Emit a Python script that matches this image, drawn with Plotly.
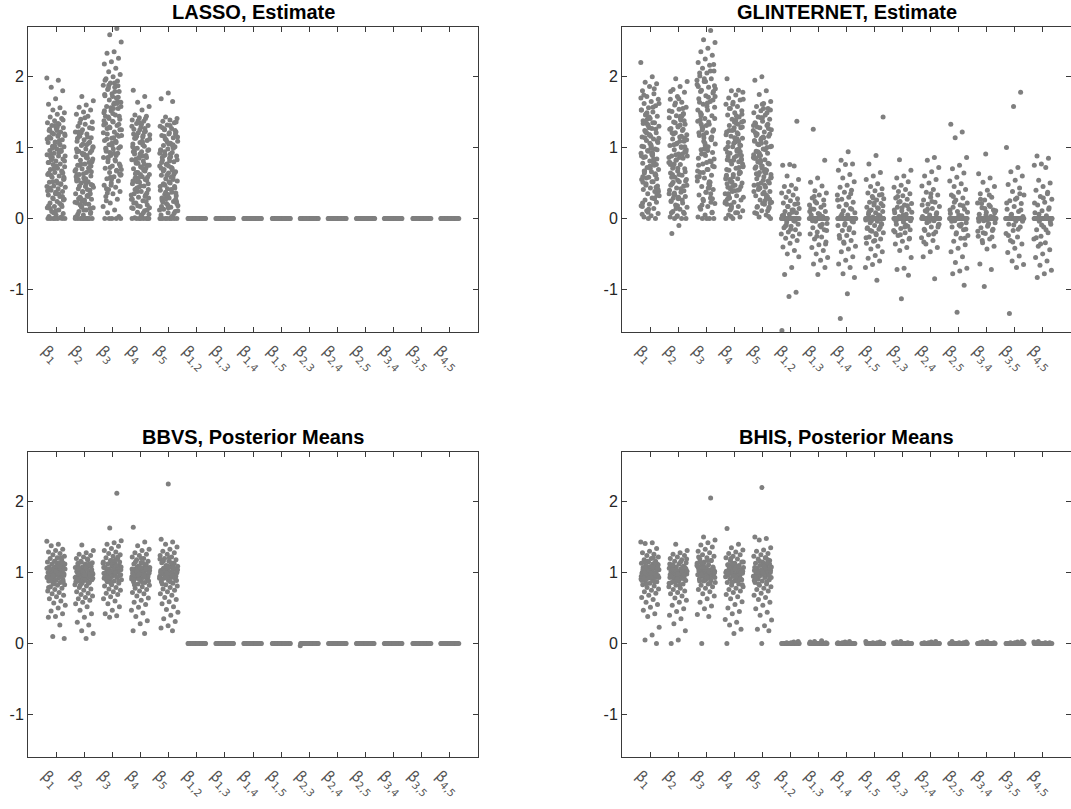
import plotly.graph_objects as go

# ---------------- data ----------------
labels = ["1", "2", "3", "4", "5", "1,2", "1,3", "1,4", "1,5", "2,3", "2,4", "2,5", "3,4", "3,5", "4,5"]
titles = ["LASSO, Estimate", "GLINTERNET, Estimate", "BBVS, Posterior Means", "BHIS, Posterior Means"]

# LASSO estimates (main effects), interactions are all zero
lasso_b1 = [1.98, 1.95, 1.85, 1.80, 1.69, 1.61, 1.56, 1.53, 1.49, 1.47, 1.43, 1.41, 1.38, 1.35, 1.33, 1.31, 1.28, 1.27,
            1.24, 1.22, 1.19, 1.17, 1.16, 1.13, 1.11, 1.08, 1.07, 1.05, 1.02, 1.01, 0.98, 0.96, 0.95, 0.92, 0.90, 0.88,
            0.85, 0.84, 0.81, 0.79, 0.77, 0.76, 0.73, 0.71, 0.69, 0.66, 0.65, 0.62, 0.60, 0.58, 0.55, 0.53, 0.51, 0.49,
            0.46, 0.44, 0.42, 0.40, 0.38, 0.35, 0.33, 0.31, 0.29, 0.27, 0.24, 0.22, 0.19, 0.17, 0.15, 0.12, 0.10, 0.07,
            0.05, 0.03, 0.01, 0.0, 0.0, 0.0, 0.0, 0.0, 0.0, 0.0, 1.10, 0.86, 0.58, 0.35, 1.26, 0.97, 0.70, 0.45, 1.18,
            0.91, 0.64, 0.37, 0.18, 1.04, 0.52, 0.81, 1.29, 0.14, 0.67, 1.02, 0.39, 0.93, 1.21, 0.26, 0.74, 1.15, 0.48,
            0.08, 0.88, 1.34, 0.61, 0.31, 1.07, 0.79, 0.21, 0.99, 0.56, 1.24, 0.43, 0.02, 0.71, 1.12, 0.35, 0.83, 1.39,
            0.11, 0.64, 0.95, 0.28, 1.19, 0.50, 0.87, 0.17, 1.31]
lasso_b2 = [1.72, 1.66, 1.60, 1.57, 1.53, 1.50, 1.47, 1.44, 1.40, 1.36, 1.33, 1.30, 1.28, 1.25, 1.22, 1.19, 1.16, 1.14,
            1.11, 1.09, 1.06, 1.03, 1.00, 0.98, 0.95, 0.93, 0.90, 0.87, 0.85, 0.82, 0.80, 0.77, 0.75, 0.72, 0.70, 0.67,
            0.65, 0.62, 0.60, 0.57, 0.55, 0.52, 0.50, 0.47, 0.45, 0.42, 0.40, 0.37, 0.35, 0.32, 0.30, 0.27, 0.25, 0.22,
            0.20, 0.17, 0.15, 0.12, 0.10, 0.07, 0.05, 0.02, 0.0, 0.0, 0.0, 0.0, 0.0, 0.0, 0.0, 0.0, 0.0, 0.75, 0.48,
            0.91, 0.62, 0.33, 1.21, 0.84, 0.56, 0.28, 0.14, 1.05, 0.69, 0.41, 0.19, 0.96, 0.53, 1.13, 0.79, 0.24, 0.44,
            0.86, 1.18, 0.09, 0.63, 0.98, 0.31, 0.77, 1.27, 0.21, 0.55, 1.08, 0.38, 0.02, 0.89, 1.35, 0.66, 0.26, 0.94,
            0.71, 0.16, 1.01, 0.49, 1.22, 0.35, 0.0, 0.59, 1.15, 0.29, 0.81, 1.42, 0.06, 0.68, 0.92, 0.23, 1.04, 0.46,
            0.74, 0.12, 0.53]
lasso_b3 = [2.68, 2.59, 2.49, 2.35, 2.33, 2.26, 2.21, 2.18, 2.12, 2.07, 2.03, 2.00, 1.97, 1.94, 1.91, 1.88, 1.85, 1.82,
            1.79, 1.76, 1.73, 1.70, 1.67, 1.64, 1.61, 1.58, 1.55, 1.52, 1.49, 1.46, 1.43, 1.40, 1.37, 1.34, 1.31, 1.28,
            1.25, 1.22, 1.19, 1.16, 1.13, 1.10, 1.07, 1.04, 1.01, 0.98, 0.95, 0.92, 0.89, 0.86, 0.83, 0.80, 0.77, 0.74,
            0.71, 0.68, 0.65, 0.62, 0.59, 0.56, 0.53, 0.50, 0.47, 0.44, 0.41, 0.38, 0.35, 0.31, 0.27, 0.22, 0.17, 0.12,
            0.08, 0.03, 0.0, 0.0, 0.0, 0.0, 0.0, 1.14, 0.42, 1.87, 1.56, 1.32, 1.08, 0.84, 0.63, 1.72, 1.44, 1.18, 0.93,
            0.69, 1.63, 1.27, 0.99, 0.55, 1.52, 1.09, 1.88, 0.74, 1.36, 0.97, 1.65, 0.58, 1.21, 1.79, 0.86, 1.44, 1.03,
            1.95, 0.67, 1.29, 1.58, 0.92, 1.12, 1.71, 0.47, 1.38, 0.81, 1.84, 1.25, 1.48, 0.99, 1.62, 0.72, 1.17, 1.91,
            0.36, 1.33, 1.06, 1.75, 0.89, 1.41, 0.61, 1.55, 0.25]
lasso_b4 = [1.81, 1.72, 1.64, 1.58, 1.53, 1.46, 1.44, 1.42, 1.39, 1.37, 1.34, 1.31, 1.29, 1.26, 1.23, 1.21, 1.18, 1.15,
            1.13, 1.10, 1.07, 1.05, 1.02, 0.99, 0.97, 0.94, 0.91, 0.89, 0.86, 0.83, 0.81, 0.78, 0.75, 0.73, 0.70, 0.67,
            0.65, 0.62, 0.59, 0.57, 0.54, 0.51, 0.49, 0.46, 0.43, 0.41, 0.38, 0.35, 0.33, 0.30, 0.27, 0.25, 0.22, 0.19,
            0.17, 0.14, 0.11, 0.09, 0.06, 0.03, 0.01, 0.0, 0.0, 0.0, 0.0, 0.0, 0.0, 0.0, 0.22, 0.55, 1.38, 1.12, 0.88,
            0.63, 0.36, 1.25, 1.01, 0.77, 0.52, 0.29, 1.33, 0.95, 0.71, 0.44, 0.15, 1.17, 0.84, 0.58, 0.62, 0.94, 1.27,
            0.18, 0.75, 1.09, 0.41, 0.86, 1.35, 0.27, 0.68, 1.16, 0.49, 0.05, 0.99, 1.41, 0.57, 0.33, 1.04, 0.81, 0.12,
            0.91, 0.53, 1.22, 0.38, 0.0, 0.72, 1.13, 0.24, 0.85, 1.30, 0.08, 0.65, 0.96, 0.46, 1.19, 0.31, 0.78, 0.15,
            1.07]
lasso_b5 = [1.77, 1.69, 1.65, 1.43, 1.41, 1.39, 1.37, 1.35, 1.32, 1.30, 1.27, 1.25, 1.22, 1.19, 1.17, 1.14, 1.11, 1.09,
            1.06, 1.03, 1.01, 0.98, 0.96, 0.93, 0.90, 0.88, 0.85, 0.82, 0.80, 0.77, 0.74, 0.72, 0.69, 0.66, 0.64, 0.61,
            0.58, 0.56, 0.53, 0.50, 0.48, 0.45, 0.42, 0.40, 0.37, 0.34, 0.32, 0.29, 0.26, 0.24, 0.21, 0.18, 0.16, 0.13,
            0.10, 0.08, 0.05, 0.02, 0.0, 0.0, 0.0, 0.0, 0.0, 0.0, 0.0, 0.0, 1.26, 0.36, 1.05, 0.79, 0.55, 0.28, 1.15,
            0.91, 0.67, 0.43, 0.19, 0.97, 0.71, 0.47, 0.24, 1.21, 0.86, 0.62, 0.33, 0.12, 0.58, 0.89, 1.19, 0.15, 0.71,
            1.02, 0.37, 0.83, 1.31, 0.23, 0.64, 1.08, 0.45, 0.03, 0.94, 1.36, 0.52, 0.29, 0.99, 0.76, 0.11, 0.87, 0.49,
            1.24, 0.34, 0.0, 0.68, 1.12, 0.21, 0.81, 1.28, 0.07, 0.61, 0.92, 0.41, 1.16, 0.27, 0.74, 0.17, 1.04]
lasso_zero = [0.0] * 30

# GLINTERNET estimates
glin_b1 = [2.20, 2.00, 1.92, 1.90, 1.86, 1.80, 1.76, 1.72, 1.68, 1.65, 1.62, 1.59, 1.56, 1.53, 1.50, 1.47, 1.44, 1.41,
           1.38, 1.35, 1.33, 1.30, 1.27, 1.24, 1.21, 1.18, 1.15, 1.12, 1.10, 1.07, 1.04, 1.01, 0.98, 0.95, 0.92, 0.89,
           0.87, 0.84, 0.81, 0.78, 0.75, 0.72, 0.69, 0.66, 0.64, 0.61, 0.58, 0.55, 0.52, 0.49, 0.46, 0.43, 0.41, 0.38,
           0.35, 0.32, 0.29, 0.26, 0.23, 0.20, 0.17, 0.14, 0.11, 0.07, 0.04, 0.02, 0.0, 0.0, 1.53, 1.35, 1.22, 0.97,
           0.74, 0.51, 0.28, 1.40, 1.13, 0.91, 0.67, 0.44, 1.28, 1.02, 0.79, 0.57, 0.33, 1.16, 0.86, 0.62, 0.09, 1.70,
           0.93, 1.37, 0.56, 1.18, 0.22, 0.81, 1.49, 0.38, 1.02, 0.67, 1.26, 0.13, 0.88, 1.57, 0.47, 1.09, 0.71, 1.34,
           0.29, 0.96, 1.62, 0.52, 1.14, 0.76, 1.43, 0.06, 0.84, 1.21, 0.41, 0.99, 1.74, 0.63, 1.31, 0.18, 0.91, 1.46,
           0.34, 1.06, 0.59, 1.83]
glin_b2 = [1.97, 1.93, 1.86, 1.82, 1.78, 1.72, 1.68, 1.64, 1.60, 1.57, 1.54, 1.51, 1.48, 1.45, 1.42, 1.39, 1.36, 1.33,
           1.30, 1.27, 1.24, 1.21, 1.18, 1.15, 1.12, 1.09, 1.06, 1.03, 1.00, 0.97, 0.94, 0.91, 0.88, 0.85, 0.82, 0.79,
           0.76, 0.73, 0.70, 0.67, 0.64, 0.61, 0.58, 0.55, 0.52, 0.49, 0.46, 0.43, 0.40, 0.37, 0.34, 0.31, 0.28, 0.25,
           0.22, 0.19, 0.16, 0.13, 0.10, 0.07, 0.04, 0.02, 0.0, 0.0, 0.0, -0.10, -0.21, 1.47, 1.05, 0.35, 1.44, 1.19,
           0.95, 0.71, 0.47, 0.26, 1.35, 1.11, 0.86, 0.62, 0.39, 0.17, 1.26, 1.01, 0.77, 0.53, 0.30, 0.08, 1.55, 0.90,
           0.88, 1.32, 0.51, 1.13, 0.18, 0.76, 1.44, 0.33, 0.97, 0.62, 1.21, 0.09, 0.83, 1.52, 0.42, 1.04, 0.66, 1.29,
           0.24, 0.91, 1.63, 0.47, 1.09, 0.71, 1.38, 0.03, 0.79, 1.16, 0.36, 0.94, 1.69, 0.58, 1.26, 0.14, 0.86, 1.41,
           0.29, 1.01, 0.54, 1.79]
glin_b3 = [2.65, 2.52, 2.48, 2.40, 2.35, 2.30, 2.25, 2.20, 2.16, 2.12, 2.08, 2.05, 2.01, 1.97, 1.93, 1.89, 1.85, 1.81,
           1.77, 1.73, 1.69, 1.65, 1.61, 1.57, 1.53, 1.49, 1.45, 1.41, 1.37, 1.33, 1.29, 1.25, 1.21, 1.17, 1.13, 1.09,
           1.05, 1.01, 0.97, 0.93, 0.89, 0.85, 0.81, 0.77, 0.73, 0.69, 0.65, 0.61, 0.57, 0.53, 0.49, 0.45, 0.41, 0.37,
           0.33, 0.29, 0.25, 0.21, 0.17, 0.13, 0.09, 0.05, 0.02, 0.0, 0.0, 0.0, 0.0, 2.05, 0.80, 0.98, 1.95, 1.71,
           1.47, 1.23, 0.99, 0.75, 0.51, 0.27, 1.87, 1.63, 1.39, 1.15, 0.91, 0.67, 0.43, 0.19, 1.79, 1.31, 0.59, 0.35,
           1.18, 1.72, 0.69, 1.45, 0.28, 1.03, 1.86, 0.47, 1.27, 0.84, 1.58, 0.16, 1.11, 1.97, 0.59, 1.36, 0.91, 1.67,
           0.37, 1.21, 2.08, 0.65, 1.41, 0.96, 1.79, 0.08, 1.06, 1.53, 0.52, 1.25, 2.17, 0.79, 1.64, 0.23, 1.14, 1.83,
           0.43, 1.33, 0.74, 1.93]
glin_b4 = [1.97, 1.81, 1.80, 1.78, 1.74, 1.70, 1.67, 1.64, 1.61, 1.58, 1.55, 1.52, 1.49, 1.46, 1.43, 1.40, 1.37, 1.34,
           1.31, 1.28, 1.25, 1.22, 1.19, 1.16, 1.13, 1.10, 1.07, 1.04, 1.01, 0.98, 0.95, 0.92, 0.89, 0.86, 0.83, 0.80,
           0.77, 0.74, 0.71, 0.68, 0.65, 0.62, 0.59, 0.56, 0.53, 0.50, 0.47, 0.44, 0.41, 0.38, 0.35, 0.32, 0.29, 0.26,
           0.23, 0.20, 0.17, 0.14, 0.11, 0.08, 0.05, 0.02, 0.0, 0.0, 1.12, 0.42, 1.36, 1.14, 0.93, 0.72, 0.51, 0.30,
           1.45, 1.24, 1.03, 0.82, 0.61, 0.40, 0.19, 1.29, 1.08, 0.87, 0.66, 0.45, 0.24, 0.97, 0.55, 0.84, 1.28, 0.49,
           1.09, 0.17, 0.73, 1.39, 0.31, 0.94, 0.59, 1.18, 0.08, 0.81, 1.47, 0.39, 1.01, 0.63, 1.24, 0.22, 0.88, 1.55,
           0.45, 1.06, 0.69, 1.33, 0.03, 0.77, 1.13, 0.35, 0.91, 1.61, 0.56, 1.21, 0.12, 0.83, 1.36, 0.27, 0.98, 0.52,
           1.68]
glin_b5 = [2.00, 1.95, 1.80, 1.75, 1.65, 1.62, 1.58, 1.55, 1.52, 1.49, 1.46, 1.43, 1.40, 1.37, 1.34, 1.31, 1.28, 1.25,
           1.22, 1.19, 1.16, 1.13, 1.10, 1.07, 1.04, 1.01, 0.98, 0.95, 0.92, 0.89, 0.86, 0.83, 0.80, 0.77, 0.74, 0.71,
           0.68, 0.65, 0.62, 0.59, 0.56, 0.53, 0.50, 0.47, 0.44, 0.41, 0.38, 0.35, 0.32, 0.29, 0.26, 0.23, 0.20, 0.17,
           0.14, 0.11, 0.08, 0.05, 0.02, 0.0, 1.55, 0.63, 1.33, 1.11, 0.90, 0.69, 0.48, 0.27, 1.42, 1.21, 1.00, 0.79,
           0.58, 0.37, 0.16, 1.27, 1.06, 0.85, 0.64, 0.43, 0.22, 1.15, 0.73, 0.31, 0.82, 1.24, 0.47, 1.05, 0.16, 0.71,
           1.35, 0.29, 0.92, 0.57, 1.14, 0.07, 0.78, 1.42, 0.38, 0.97, 0.61, 1.19, 0.21, 0.85, 1.49, 0.43, 1.02, 0.66,
           1.29, 0.03, 0.74, 1.09, 0.33, 0.88, 1.53, 0.54, 1.17, 0.11, 0.80, 1.31, 0.25, 0.94, 0.50, 1.61]
glin_12 = [1.37, 0.76, 0.75, 0.74, 0.60, 0.55, 0.47, 0.45, 0.42, 0.38, 0.36, 0.33, 0.30, 0.28, 0.25, 0.22, 0.20, 0.17,
           0.14, 0.12, 0.10, 0.08, 0.06, 0.04, -0.03, -0.05, -0.08, -0.11, -0.13, -0.16, -0.19, -0.22, -0.25, -0.28,
           -0.31, -0.35, -0.40, -0.45, -0.50, -0.54, -0.69, -0.79, -1.04, -1.10, -1.58,
           0.12, -0.09, 0.21, -0.15, 0.05, -0.04, 0.17, -0.22, 0.09, -0.11]
glin_13 = [1.26, 0.82, 0.57, 0.51, 0.46, 0.39, 0.36, 0.33, 0.29, 0.26, 0.22, 0.19, 0.16, 0.13, 0.10, 0.07, 0.05, 0.03,
           -0.04, -0.07, -0.10, -0.13, -0.16, -0.19, -0.22, -0.26, -0.29, -0.33, -0.37, -0.41, -0.45, -0.50, -0.55,
           -0.59, -0.64, -0.69, -0.79, 0.14, -0.08, 0.24, -0.17, 0.06, -0.03, 0.19, -0.25, 0.10, -0.12, 0.31, -0.36]
glin_14 = [0.94, 0.82, 0.77, 0.76, 0.68, 0.62, 0.57, 0.52, 0.47, 0.44, 0.40, 0.37, 0.33, 0.30, 0.27, 0.23, 0.20, 0.17,
           0.14, 0.11, 0.08, 0.05, 0.03, -0.04, -0.07, -0.10, -0.13, -0.17, -0.20, -0.24, -0.28, -0.31, -0.35, -0.39,
           -0.43, -0.47, -0.54, -0.59, -0.64, -0.69, -0.78, -0.83, -1.06, -1.41, 0.13, -0.09, 0.26, -0.16, 0.06,
           -0.05, 0.19, -0.24, 0.35, -0.33]
glin_15 = [1.43, 0.89, 0.77, 0.65, 0.60, 0.55, 0.49, 0.45, 0.42, 0.39, 0.36, 0.33, 0.31, 0.28, 0.26, 0.23, 0.21, 0.19,
           0.16, 0.14, 0.12, 0.10, 0.08, 0.06, 0.04, 0.02, -0.02, -0.04, -0.06, -0.08, -0.10, -0.13, -0.15, -0.18,
           -0.20, -0.23, -0.26, -0.29, -0.32, -0.35, -0.39, -0.43, -0.47, -0.52, -0.56, -0.60, -0.65, -0.69, -0.87,
           0.11, -0.07, 0.22, -0.14, 0.05, -0.03, 0.18, -0.21, 0.09, -0.12, 0.29, -0.27, 0.15, -0.17, 0.34, -0.31]
glin_23 = [0.83, 0.68, 0.60, 0.57, 0.52, 0.47, 0.44, 0.41, 0.38, 0.35, 0.32, 0.29, 0.27, 0.24, 0.21, 0.19, 0.16, 0.13,
           0.11, 0.08, 0.06, 0.03, -0.03, -0.05, -0.08, -0.11, -0.14, -0.17, -0.20, -0.24, -0.28, -0.32, -0.36, -0.41,
           -0.45, -0.55, -0.70, -0.72, -0.80, -1.13, 0.12, -0.09, 0.23, -0.16, 0.05, -0.04, 0.18, -0.23, 0.09, -0.12,
           0.31, -0.29, 0.15, -0.19]
glin_24 = [0.86, 0.82, 0.72, 0.66, 0.60, 0.55, 0.50, 0.46, 0.41, 0.37, 0.33, 0.30, 0.26, 0.23, 0.20, 0.17, 0.14, 0.11,
           0.08, 0.05, 0.03, -0.03, -0.06, -0.09, -0.12, -0.15, -0.19, -0.23, -0.27, -0.31, -0.36, -0.41, -0.47, -0.54,
           -0.85, 0.13, -0.08, 0.24, -0.17, 0.06, -0.04, 0.19, -0.22, 0.10, -0.12, 0.35, -0.33]
glin_25 = [1.33, 1.22, 1.14, 0.86, 0.75, 0.70, 0.64, 0.58, 0.53, 0.49, 0.45, 0.41, 0.37, 0.33, 0.29, 0.26, 0.22, 0.19,
           0.16, 0.13, 0.10, 0.07, 0.04, -0.03, -0.06, -0.09, -0.12, -0.16, -0.20, -0.24, -0.28, -0.32, -0.37, -0.42,
           -0.47, -0.54, -0.62, -0.70, -0.74, -0.78, -0.94, -1.32, 0.12, -0.08, 0.23, -0.15, 0.05, -0.04, 0.18, -0.22,
           0.09, -0.11, 0.31, -0.28]
glin_34 = [0.91, 0.63, 0.57, 0.51, 0.45, 0.40, 0.35, 0.30, 0.26, 0.22, 0.19, 0.15, 0.12, 0.09, 0.06, 0.03, -0.03, -0.06,
           -0.09, -0.13, -0.17, -0.21, -0.25, -0.29, -0.34, -0.39, -0.43, -0.64, -0.72, -0.96, 0.11, -0.07, 0.21,
           -0.15, 0.05, -0.04, 0.17, -0.20, 0.08, -0.11, 0.27, -0.26, 0.14, -0.18, 0.33, -0.31, 0.02, -0.02]
glin_35 = [1.78, 1.58, 1.00, 0.72, 0.66, 0.60, 0.54, 0.48, 0.43, 0.38, 0.33, 0.29, 0.25, 0.21, 0.17, 0.13, 0.10, 0.06,
           0.03, -0.04, -0.08, -0.12, -0.17, -0.21, -0.26, -0.31, -0.36, -0.42, -0.48, -0.53, -0.60, -0.65, -0.69,
           -1.34, 0.12, -0.09, 0.22, -0.15, 0.05, -0.04, 0.27, -0.24, 0.35, -0.33]
glin_45 = [0.88, 0.85, 0.77, 0.75, 0.72, 0.54, 0.50, 0.45, 0.40, 0.35, 0.31, 0.27, 0.23, 0.19, 0.15, 0.11, 0.08, 0.04,
           -0.04, -0.08, -0.12, -0.16, -0.20, -0.25, -0.29, -0.34, -0.39, -0.44, -0.50, -0.55, -0.60, -0.66, -0.73,
           -0.78, -0.83, 0.13, -0.09, 0.22, -0.16, 0.06, -0.05, 0.29, -0.27, 0.37, -0.36]
glin_zero_count = 28

# BBVS posterior means
bbvs_b1 = [1.44, 1.40, 1.38, 1.33, 1.31, 1.29, 1.27, 1.25, 1.23, 1.21, 1.20, 1.18, 1.16, 1.15, 1.13, 1.12, 1.10, 1.09,
           1.08, 1.07, 1.06, 1.05, 1.04, 1.03, 1.02, 1.01, 1.00, 1.00, 0.99, 0.98, 0.97, 0.96, 0.95, 0.94, 0.93, 0.92,
           0.91, 0.90, 0.89, 0.88, 0.86, 0.85, 0.83, 0.82, 0.80, 0.78, 0.76, 0.74, 0.72, 0.70, 0.68, 0.66, 0.63, 0.60,
           0.57, 0.54, 0.50, 0.46, 0.42, 0.38, 0.37, 0.26, 0.10, 0.07, 1.11, 1.03, 0.97, 1.06, 0.94, 1.14, 0.99, 0.87,
           1.01, 0.95, 1.07, 0.91, 1.12, 0.98, 1.04, 0.87, 1.16, 0.93, 1.09, 1.00, 0.96, 1.03, 0.89, 1.21, 0.84, 1.06,
           0.99, 0.92, 1.14, 1.02, 0.79, 1.08, 0.97]
bbvs_b2 = [1.39, 1.31, 1.28, 1.26, 1.24, 1.22, 1.20, 1.18, 1.16, 1.14, 1.12, 1.11, 1.09, 1.08, 1.07, 1.05, 1.04, 1.03,
           1.02, 1.01, 1.00, 0.99, 0.98, 0.97, 0.96, 0.95, 0.94, 0.93, 0.92, 0.91, 0.90, 0.89, 0.88, 0.86, 0.85, 0.83,
           0.81, 0.79, 0.77, 0.75, 0.73, 0.71, 0.69, 0.67, 0.65, 0.63, 0.61, 0.58, 0.56, 0.52, 0.47, 0.42, 0.37, 0.30,
           0.26, 0.18, 0.14, 0.07, 1.06, 0.98, 1.02, 0.94, 1.10, 0.90, 1.00, 0.96, 1.13, 0.87, 0.99, 0.93, 1.05, 0.89,
           1.09, 0.96, 1.02, 0.85, 1.15, 0.92, 1.07, 0.98, 0.95, 1.01, 0.87, 1.19, 0.82, 1.04, 0.97, 0.91, 1.12]
bbvs_b3 = [2.12, 1.63, 1.45, 1.42, 1.40, 1.37, 1.34, 1.31, 1.29, 1.27, 1.25, 1.23, 1.21, 1.19, 1.17, 1.15, 1.13, 1.12,
           1.10, 1.09, 1.07, 1.06, 1.05, 1.04, 1.03, 1.02, 1.01, 1.00, 0.99, 0.98, 0.97, 0.96, 0.95, 0.94, 0.93, 0.91,
           0.90, 0.88, 0.87, 0.85, 0.83, 0.81, 0.79, 0.77, 0.75, 0.73, 0.71, 0.69, 0.66, 0.63, 0.60, 0.56, 0.52, 0.47,
           0.42, 0.39, 0.37, 1.08, 1.00, 0.96, 1.03, 1.14, 0.92, 1.18, 0.98, 1.05, 1.02, 0.96, 1.08, 0.92, 1.13, 0.99,
           1.05, 0.88, 1.17, 0.94, 1.10, 1.01, 0.97, 1.04, 0.90, 1.22, 0.85, 1.07, 1.00, 0.93, 1.15]
bbvs_b4 = [1.64, 1.43, 1.38, 1.33, 1.31, 1.28, 1.26, 1.24, 1.22, 1.20, 1.18, 1.16, 1.14, 1.12, 1.10, 1.09, 1.07, 1.06,
           1.05, 1.04, 1.03, 1.02, 1.01, 1.00, 0.99, 0.98, 0.97, 0.96, 0.95, 0.94, 0.93, 0.92, 0.90, 0.89, 0.87, 0.86,
           0.84, 0.82, 0.80, 0.78, 0.76, 0.74, 0.72, 0.70, 0.67, 0.64, 0.61, 0.58, 0.55, 0.51, 0.47, 0.43, 0.38, 0.32,
           0.28, 0.18, 0.14, 1.08, 0.99, 1.02, 0.95, 1.11, 0.91, 1.05, 0.97, 1.00, 0.94, 1.06, 0.90, 1.11, 0.97, 1.03,
           0.86, 1.15, 0.92, 1.08, 0.99, 0.95, 1.02, 0.88, 1.20, 0.83, 1.05, 0.98, 0.91, 1.13]
bbvs_b5 = [2.25, 1.47, 1.43, 1.40, 1.36, 1.33, 1.30, 1.28, 1.26, 1.24, 1.22, 1.20, 1.18, 1.16, 1.14, 1.12, 1.10, 1.09,
           1.08, 1.06, 1.05, 1.04, 1.03, 1.02, 1.01, 1.00, 0.99, 0.98, 0.97, 0.96, 0.95, 0.93, 0.92, 0.90, 0.89, 0.87,
           0.85, 0.83, 0.81, 0.79, 0.77, 0.75, 0.73, 0.70, 0.68, 0.65, 0.62, 0.59, 0.56, 0.52, 0.48, 0.44, 0.40, 0.35,
           0.31, 0.25, 0.22, 0.18, 1.07, 1.00, 0.96, 1.03, 1.13, 0.93, 1.19, 0.98, 1.01, 0.95, 1.07, 0.91, 1.12, 0.98,
           1.04, 0.87, 1.16, 0.93, 1.09, 1.00, 0.96, 1.03, 0.89, 1.21, 0.84, 1.06, 0.99, 0.92, 1.14]
bbvs_inter = [0.0] * 28
bbvs_23 = [0.0] * 27 + [-0.03]

# BHIS posterior means
bhis_b1 = [1.43, 1.42, 1.41, 1.34, 1.30, 1.28, 1.26, 1.24, 1.22, 1.20, 1.18, 1.16, 1.15, 1.13, 1.12, 1.10, 1.09, 1.08,
           1.07, 1.06, 1.05, 1.04, 1.03, 1.02, 1.01, 1.00, 0.99, 0.98, 0.97, 0.96, 0.95, 0.94, 0.93, 0.92, 0.91, 0.90,
           0.88, 0.87, 0.85, 0.83, 0.81, 0.79, 0.77, 0.75, 0.73, 0.71, 0.68, 0.65, 0.62, 0.58, 0.55, 0.51, 0.47, 0.42,
           0.38, 0.23, 0.12, 0.05, 0.0, 1.08, 1.00, 0.96, 1.04, 1.11, 0.93, 1.15, 0.98, 1.01, 0.95, 1.07, 0.91, 1.12,
           0.98, 1.04, 0.87, 1.16, 0.93, 1.09, 1.00, 0.96, 1.03, 0.89, 1.21, 0.84, 1.06, 0.99, 0.92, 1.14]
bhis_b2 = [1.40, 1.31, 1.28, 1.26, 1.24, 1.22, 1.20, 1.18, 1.16, 1.14, 1.12, 1.10, 1.09, 1.08, 1.06, 1.05, 1.04, 1.03,
           1.02, 1.01, 1.00, 0.99, 0.98, 0.97, 0.96, 0.95, 0.94, 0.93, 0.92, 0.91, 0.89, 0.88, 0.86, 0.84, 0.82, 0.80,
           0.78, 0.76, 0.74, 0.72, 0.70, 0.67, 0.64, 0.61, 0.58, 0.54, 0.49, 0.45, 0.40, 0.35, 0.28, 0.18, 0.05, 0.0,
           1.07, 0.99, 1.02, 0.95, 1.11, 0.91, 1.00, 0.97, 0.99, 0.93, 1.05, 0.89, 1.09, 0.96, 1.02, 0.85, 1.15, 0.92,
           1.07, 0.98, 0.95, 1.01, 0.87, 1.19, 0.82, 1.04, 0.97, 0.91, 1.12]
bhis_b3 = [2.05, 1.50, 1.46, 1.42, 1.39, 1.36, 1.33, 1.30, 1.28, 1.25, 1.23, 1.21, 1.19, 1.17, 1.15, 1.13, 1.11, 1.10,
           1.08, 1.07, 1.05, 1.04, 1.03, 1.02, 1.01, 1.00, 0.99, 0.98, 0.97, 0.96, 0.95, 0.94, 0.92, 0.91, 0.89, 0.88,
           0.86, 0.84, 0.82, 0.80, 0.78, 0.76, 0.73, 0.70, 0.67, 0.63, 0.58, 0.53, 0.49, 0.41, 0.38, 0.0, 1.06, 0.99,
           1.02, 0.96, 1.12, 0.93, 1.17, 0.98, 1.02, 0.96, 1.08, 0.92, 1.13, 0.99, 1.05, 0.88, 1.17, 0.94, 1.10, 1.01,
           0.97, 1.04, 0.90, 1.22, 0.85, 1.07, 1.00, 0.93, 1.15]
bhis_b4 = [1.62, 1.40, 1.35, 1.32, 1.29, 1.27, 1.25, 1.23, 1.21, 1.19, 1.17, 1.15, 1.13, 1.11, 1.10, 1.08, 1.07, 1.06,
           1.05, 1.04, 1.03, 1.02, 1.01, 1.00, 0.99, 0.98, 0.97, 0.96, 0.95, 0.94, 0.93, 0.91, 0.90, 0.88, 0.86, 0.84,
           0.82, 0.80, 0.78, 0.76, 0.74, 0.72, 0.69, 0.66, 0.63, 0.59, 0.55, 0.50, 0.45, 0.42, 0.34, 0.30, 0.26, 0.20,
           0.14, 0.0, 1.08, 0.99, 1.02, 0.95, 1.11, 0.92, 1.05, 1.00, 0.94, 1.06, 0.90, 1.11, 0.97, 1.03, 0.86, 1.15,
           0.92, 1.08, 0.99, 0.95, 1.02, 0.88, 1.20, 0.83, 1.05, 0.98, 0.91, 1.13]
bhis_b5 = [2.20, 1.50, 1.48, 1.46, 1.35, 1.32, 1.30, 1.27, 1.25, 1.23, 1.21, 1.19, 1.17, 1.15, 1.13, 1.11, 1.10, 1.08,
           1.07, 1.06, 1.05, 1.04, 1.03, 1.02, 1.01, 1.00, 0.99, 0.98, 0.97, 0.96, 0.95, 0.93, 0.92, 0.90, 0.88, 0.86,
           0.84, 0.82, 0.80, 0.78, 0.76, 0.74, 0.71, 0.68, 0.65, 0.62, 0.58, 0.54, 0.49, 0.44, 0.40, 0.33, 0.25, 0.20,
           0.18, 0.0, 1.07, 1.00, 0.96, 1.03, 1.13, 0.94, 1.18, 1.01, 0.95, 1.07, 0.91, 1.12, 0.98, 1.04, 0.87, 1.16,
           0.93, 1.09, 1.00, 0.96, 1.03, 0.89, 1.21, 0.84, 1.06, 0.99, 0.92, 1.14]
bhis_inter = [0.0] * 24 + [0.02, 0.01, 0.03, 0.01]
bhis_13 = [0.0] * 24 + [0.02, 0.04, 0.03, 0.01]

panels = [
    [lasso_b1, lasso_b2, lasso_b3, lasso_b4, lasso_b5] + [lasso_zero] * 10,
    [glin_b1, glin_b2, glin_b3, glin_b4, glin_b5]
    + [g + [0.0] * glin_zero_count for g in
       [glin_12, glin_13, glin_14, glin_15, glin_23, glin_24, glin_25, glin_34, glin_35, glin_45]],
    [bbvs_b1, bbvs_b2, bbvs_b3, bbvs_b4, bbvs_b5,
     bbvs_inter, bbvs_inter, bbvs_inter, bbvs_inter, bbvs_23, bbvs_inter, bbvs_inter, bbvs_inter, bbvs_inter, bbvs_inter],
    [bhis_b1, bhis_b2, bhis_b3, bhis_b4, bhis_b5,
     bhis_inter, bhis_13, bhis_inter, bhis_inter, bhis_inter, bhis_inter, bhis_inter, bhis_inter, bhis_inter, bhis_inter],
]

# ---------------- layout ----------------
W, H = 1071, 809
ML, MR, MT, MB = 28, 0, 27, 52
pw = W - ML - MR
ph = H - MT - MB
x_domains = [[0, 450 / pw], [594 / pw, 1.0]]
y_domains = [[1 - 305 / ph, 1.0], [0, 305 / ph]]

GOLD = 0.6180339887
JW = 0.33

fig = go.Figure()
tick_text = [f"β<sub>{s}</sub>" for s in labels]
axis_color = "#3a3a3a"

for p, cols in enumerate(panels):
    r, c = divmod(p, 2)
    idx = p + 1
    xa = "x" if idx == 1 else f"x{idx}"
    ya = "y" if idx == 1 else f"y{idx}"
    xs, ys = [], []
    for k, vals in enumerate(cols):
        for i, v in enumerate(vals):
            f = (i * GOLD + 0.37 * k) % 1.0
            xs.append(k + 1 + JW * (2 * f - 1))
            ys.append(v)
    fig.add_trace(go.Scatter(x=xs, y=ys, mode="markers", xaxis=xa, yaxis=ya,
                             marker=dict(size=5, color="#7f7f7f", line=dict(width=0)),
                             showlegend=False, hoverinfo="y"))
    xkey = "xaxis" if idx == 1 else f"xaxis{idx}"
    ykey = "yaxis" if idx == 1 else f"yaxis{idx}"
    fig.layout[xkey] = dict(domain=x_domains[c], anchor=ya, range=[0, 16],
                            tickmode="array", tickvals=list(range(1, 16)), ticktext=tick_text,
                            tickangle=45, ticks="inside", ticklen=5, tickcolor=axis_color,
                            showline=True, linecolor=axis_color, linewidth=1, mirror="ticks",
                            showgrid=False, zeroline=False, ticklabelshift=-10, ticklabelstandoff=3,
                            tickfont=dict(family="DejaVu Sans", size=15, color="#555555"))
    fig.layout[ykey] = dict(domain=y_domains[r], anchor=xa, range=[-1.6, 2.7],
                            tickmode="array", tickvals=[-1, 0, 1, 2], ticktext=["-1", "0", "1", "2"],
                            ticks="inside", ticklen=5, tickcolor=axis_color,
                            showline=True, linecolor=axis_color, linewidth=1, mirror="ticks",
                            showgrid=False, zeroline=False,
                            tickfont=dict(family="Liberation Sans, Arial", size=16, color="#262626"))
    fig.add_annotation(text=f"<b>{titles[p]}</b>", xref=f"{xa} domain", yref=f"{ya} domain",
                       x=0.5, y=1.0, yshift=2, xanchor="center", yanchor="bottom", showarrow=False,
                       font=dict(family="Liberation Sans, Arial", size=20, color="#000000"))

fig.update_layout(width=W, height=H, margin=dict(l=ML, r=MR, t=MT, b=MB, pad=0),
                  paper_bgcolor="white", plot_bgcolor="white")

# remove the browser's default 8px page margin so the figure sits at the window's top-left corner
fig.write_html("out.html", config={"displayModeBar": False},
               post_script="document.body.style.margin='0px';")
